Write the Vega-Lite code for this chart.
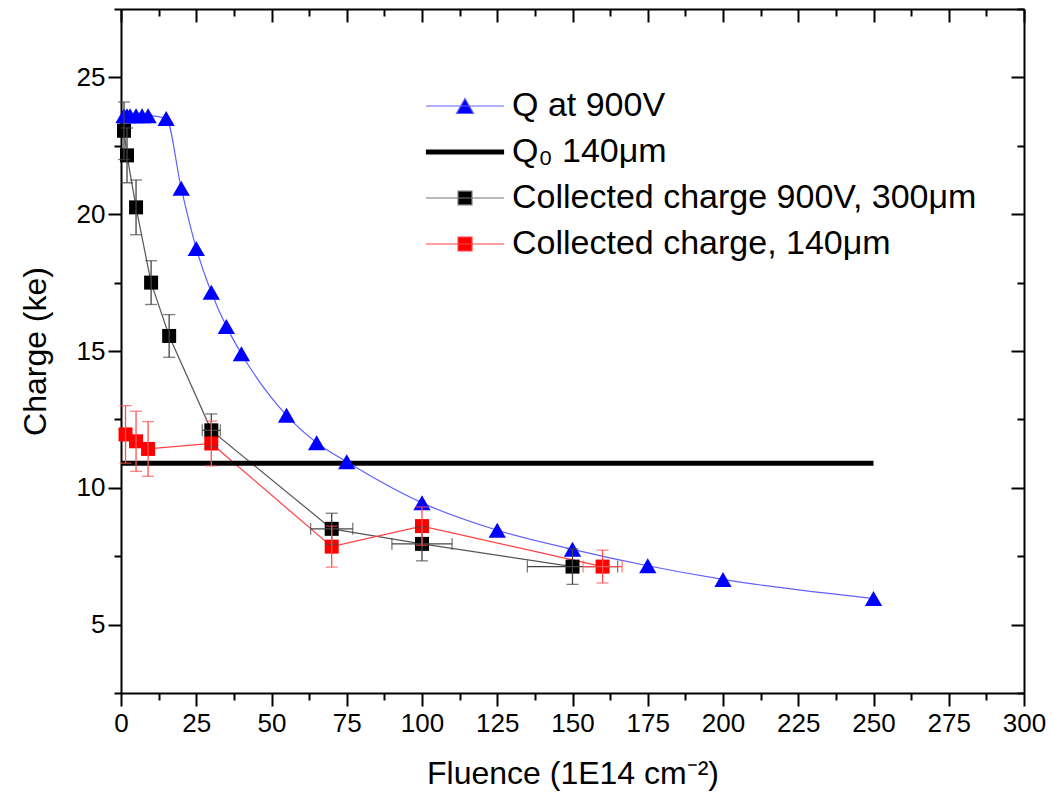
{
  "$schema": "https://vega.github.io/schema/vega-lite/v6.json",
  "width": 903,
  "height": 684,
  "autosize": {"type": "none"},
  "padding": {"left": 121, "top": 9, "right": 28, "bottom": 115},
  "background": "white",
  "config": {
    "view": {"stroke": null},
    "font": "Liberation Sans",
    "axis": {
      "grid": false,
      "domainColor": "black",
      "domainWidth": 2,
      "tickColor": "black",
      "tickWidth": 2,
      "labelFont": "Liberation Sans",
      "labelFontSize": 26,
      "labelColor": "black",
      "labelFlush": false,
      "labelOverlap": false,
      "labelBound": false,
      "titleFont": "Liberation Sans",
      "titleFontSize": 32,
      "titleFontWeight": "normal",
      "titleColor": "black"
    },
    "legend": {"labelFont": "Liberation Sans", "labelColor": "black", "labelLimit": 0}
  },
  "datasets": {
    "pts": [
      {"series": "Q at 900V", "x": 1, "y": 23.6},
      {"series": "Q at 900V", "x": 2, "y": 23.6},
      {"series": "Q at 900V", "x": 3, "y": 23.6},
      {"series": "Q at 900V", "x": 5, "y": 23.6},
      {"series": "Q at 900V", "x": 7, "y": 23.6},
      {"series": "Q at 900V", "x": 9, "y": 23.6},
      {"series": "Q at 900V", "x": 15, "y": 23.5},
      {"series": "Q at 900V", "x": 20, "y": 20.95},
      {"series": "Q at 900V", "x": 25, "y": 18.75},
      {"series": "Q at 900V", "x": 30, "y": 17.15},
      {"series": "Q at 900V", "x": 35, "y": 15.9},
      {"series": "Q at 900V", "x": 40, "y": 14.9},
      {"series": "Q at 900V", "x": 55, "y": 12.65},
      {"series": "Q at 900V", "x": 65, "y": 11.65},
      {"series": "Q at 900V", "x": 75, "y": 10.95},
      {"series": "Q at 900V", "x": 100, "y": 9.45},
      {"series": "Q at 900V", "x": 125, "y": 8.45},
      {"series": "Q at 900V", "x": 150, "y": 7.75},
      {"series": "Q at 900V", "x": 175, "y": 7.15},
      {"series": "Q at 900V", "x": 200, "y": 6.65},
      {"series": "Q at 900V", "x": 250, "y": 5.95},
      {"series": "Q₀ 140μm", "x": 0, "y": 10.9},
      {"series": "Q₀ 140μm", "x": 250, "y": 10.9},
      {"series": "Collected charge 900V, 300μm", "x": 1, "y": 23.05, "yerr": 1.05, "xerr": 0},
      {"series": "Collected charge 900V, 300μm", "x": 2, "y": 22.15, "yerr": 1.0, "xerr": 0},
      {"series": "Collected charge 900V, 300μm", "x": 5, "y": 20.25, "yerr": 1.0, "xerr": 0},
      {"series": "Collected charge 900V, 300μm", "x": 10, "y": 17.5, "yerr": 0.8, "xerr": 0},
      {"series": "Collected charge 900V, 300μm", "x": 16, "y": 15.55, "yerr": 0.78, "xerr": 0},
      {"series": "Collected charge 900V, 300μm", "x": 30, "y": 12.1, "yerr": 0.6, "xerr": 3},
      {"series": "Collected charge 900V, 300μm", "x": 70, "y": 8.5, "yerr": 0.57, "xerr": 7},
      {"series": "Collected charge 900V, 300μm", "x": 100, "y": 7.95, "yerr": 0.62, "xerr": 10},
      {"series": "Collected charge 900V, 300μm", "x": 150, "y": 7.12, "yerr": 0.65, "xerr": 15},
      {"series": "Collected charge, 140μm", "x": 1.5, "y": 11.95, "yerr": 1.05, "xerr": 0},
      {"series": "Collected charge, 140μm", "x": 5, "y": 11.7, "yerr": 1.1, "xerr": 0},
      {"series": "Collected charge, 140μm", "x": 9, "y": 11.42, "yerr": 1.0, "xerr": 0},
      {"series": "Collected charge, 140μm", "x": 30, "y": 11.62, "yerr": 0.82, "xerr": 0},
      {"series": "Collected charge, 140μm", "x": 70, "y": 7.85, "yerr": 0.75, "xerr": 0},
      {"series": "Collected charge, 140μm", "x": 100, "y": 8.6, "yerr": 0.7, "xerr": 0},
      {"series": "Collected charge, 140μm", "x": 160, "y": 7.12, "yerr": 0.6, "xerr": 6.5}
    ]
  },
  "data": {"name": "pts"},
  "resolve": {"axis": {"x": "independent", "y": "independent"}},
  "layer": [
    {
      "transform": [{"filter": "datum.series === 'Collected charge 900V, 300μm'"}],
      "mark": {"type": "line", "color": "#555555", "strokeWidth": 1.2},
      "encoding": {
        "x": {"field": "x", "type": "quantitative", "scale": {"domain": [0, 300], "nice": false, "zero": false},
          "axis": {"orient": "top", "values": [0,12.5,25,37.5,50,62.5,75,87.5,100,112.5,125,137.5,150,162.5,175,187.5,200,212.5,225,237.5,250,262.5,275,287.5,300],
            "labels": false, "title": null,
            "tickSize": {"condition": {"test": "datum.value % 25 === 0", "value": -13}, "value": -7}}},
        "y": {"field": "y", "type": "quantitative", "scale": {"domain": [2.5, 27.5], "nice": false, "zero": false},
          "axis": {"orient": "right", "values": [2.5,5,7.5,10,12.5,15,17.5,20,22.5,25,27.5],
            "labels": false, "title": null,
            "tickSize": {"condition": {"test": "datum.value % 5 === 0", "value": -13}, "value": -7}}}
      }
    },
    {
      "transform": [{"filter": "datum.series === 'Collected charge, 140μm'"}],
      "mark": {"type": "line", "color": "#ff4040", "strokeWidth": 1.2},
      "encoding": {
        "x": {"field": "x", "type": "quantitative", "axis": null},
        "y": {"field": "y", "type": "quantitative", "axis": null}
      }
    },
    {
      "transform": [{"filter": "datum.series === 'Q₀ 140μm'"}],
      "mark": {"type": "line", "color": "#000000", "strokeWidth": 5},
      "encoding": {
        "x": {"field": "x", "type": "quantitative", "axis": null},
        "y": {"field": "y", "type": "quantitative", "axis": null}
      }
    },
    {
      "transform": [{"filter": "datum.series === 'Q at 900V'"}],
      "mark": {"type": "line", "interpolate": "monotone", "color": "#6060ff", "strokeWidth": 1.2},
      "encoding": {
        "x": {"field": "x", "type": "quantitative", "axis": null},
        "y": {"field": "y", "type": "quantitative", "axis": null}
      }
    },
    {
      "transform": [{"filter": "datum.series === 'Q at 900V'"}],
      "mark": {"type": "point", "shape": "triangle-up", "filled": true, "color": "#0000ff", "size": 300, "opacity": 1},
      "encoding": {
        "x": {"field": "x", "type": "quantitative",
          "axis": {"orient": "bottom", "values": [0,12.5,25,37.5,50,62.5,75,87.5,100,112.5,125,137.5,150,162.5,175,187.5,200,212.5,225,237.5,250,262.5,275,287.5,300],
            "labelExpr": "datum.value % 25 === 0 ? format(datum.value, 'd') : ''",
            "tickSize": {"condition": {"test": "datum.value % 25 === 0", "value": 13}, "value": 7},
            "labelPadding": 4, "title": "Fluence (1E14 cm⁻²)", "titlePadding": 22}},
        "y": {"field": "y", "type": "quantitative",
          "axis": {"orient": "left", "values": [2.5,5,7.5,10,12.5,15,17.5,20,22.5,25,27.5],
            "labelExpr": "datum.value % 5 === 0 ? format(datum.value, 'd') : ''",
            "tickSize": {"condition": {"test": "datum.value % 5 === 0", "value": 13}, "value": 7},
            "labelPadding": 3, "title": "Charge (ke)", "titlePadding": 24}}
      }
    },
    {
      "transform": [{"filter": "datum.series === 'Collected charge 900V, 300μm'"}],
      "mark": {"type": "point", "shape": "square", "filled": true, "color": "#000000", "size": 196, "opacity": 1},
      "encoding": {
        "x": {"field": "x", "type": "quantitative", "axis": null},
        "y": {"field": "y", "type": "quantitative", "axis": null}
      }
    },
    {
      "transform": [{"filter": "datum.series === 'Collected charge, 140μm'"}],
      "mark": {"type": "point", "shape": "square", "filled": true, "color": "#ff0000", "size": 196, "opacity": 1},
      "encoding": {
        "x": {"field": "x", "type": "quantitative", "axis": null},
        "y": {"field": "y", "type": "quantitative", "axis": null}
      }
    },
    {
      "transform": [{"filter": "datum.series === 'Collected charge 900V, 300μm'"}],
      "mark": {"type": "errorbar", "ticks": {"size": 12, "color": "#444444"}, "color": "#444444", "thickness": 1.3},
      "encoding": {
        "x": {"field": "x", "type": "quantitative", "axis": null},
        "y": {"field": "y", "type": "quantitative", "axis": null},
        "yError": {"field": "yerr"}
      }
    },
    {
      "transform": [{"filter": "datum.series === 'Collected charge 900V, 300μm' && datum.xerr > 0"}],
      "mark": {"type": "errorbar", "ticks": {"size": 12, "color": "#444444"}, "color": "#444444", "thickness": 1.3},
      "encoding": {
        "y": {"field": "y", "type": "quantitative", "axis": null},
        "x": {"field": "x", "type": "quantitative", "axis": null},
        "xError": {"field": "xerr"}
      }
    },
    {
      "transform": [{"filter": "datum.series === 'Collected charge, 140μm'"}],
      "mark": {"type": "errorbar", "ticks": {"size": 12, "color": "#ff5050"}, "color": "#ff5050", "thickness": 1.3},
      "encoding": {
        "x": {"field": "x", "type": "quantitative", "axis": null},
        "y": {"field": "y", "type": "quantitative", "axis": null},
        "yError": {"field": "yerr"}
      }
    },
    {
      "transform": [{"filter": "datum.series === 'Collected charge, 140μm' && datum.xerr > 0"}],
      "mark": {"type": "errorbar", "ticks": {"size": 12, "color": "#ff5050"}, "color": "#ff5050", "thickness": 1.3},
      "encoding": {
        "y": {"field": "y", "type": "quantitative", "axis": null},
        "x": {"field": "x", "type": "quantitative", "axis": null},
        "xError": {"field": "xerr"}
      }
    },
    {
      "transform": [{"filter": "false"}],
      "mark": {"type": "point", "opacity": 1},
      "encoding": {
        "shape": {"field": "series", "type": "nominal",
          "scale": {"domain": ["Q at 900V", "Q₀ 140μm", "Collected charge 900V, 300μm", "Collected charge, 140μm"],
            "range": ["M-4.6,0H4.6M0,-0.88L-1,0.88L1,0.88Z", "M-4.6,0H4.6", "M-4.6,0H4.6M-0.82,-0.82H0.82V0.82H-0.82Z", "M-4.6,0H4.6M-0.82,-0.82H0.82V0.82H-0.82Z"]},
          "legend": {"orient": "none", "legendX": 327, "legendY": 80, "title": null, "padding": 0, "symbolSize": 289,
            "labelFontSize": 34, "rowPadding": 12, "labelOffset": 30}},
        "fill": {"field": "series", "type": "nominal",
          "scale": {"domain": ["Q at 900V", "Q₀ 140μm", "Collected charge 900V, 300μm", "Collected charge, 140μm"],
            "range": ["#0000ff", "transparent", "#000000", "#ff0000"]},
          "legend": {"orient": "none", "legendX": 327, "legendY": 80, "title": null, "padding": 0, "symbolSize": 289,
            "labelFontSize": 34, "rowPadding": 12, "labelOffset": 30}},
        "stroke": {"field": "series", "type": "nominal",
          "scale": {"domain": ["Q at 900V", "Q₀ 140μm", "Collected charge 900V, 300μm", "Collected charge, 140μm"],
            "range": ["#6060ff", "#000000", "#777777", "#ff4040"]},
          "legend": {"orient": "none", "legendX": 327, "legendY": 80, "title": null, "padding": 0, "symbolSize": 289,
            "labelFontSize": 34, "rowPadding": 12, "labelOffset": 30}},
        "strokeWidth": {"field": "series", "type": "nominal",
          "scale": {"type": "ordinal", "domain": ["Q at 900V", "Q₀ 140μm", "Collected charge 900V, 300μm", "Collected charge, 140μm"],
            "range": [1.2, 5, 1.2, 1.2]},
          "legend": {"orient": "none", "legendX": 327, "legendY": 80, "title": null, "padding": 0, "symbolSize": 289,
            "labelFontSize": 34, "rowPadding": 12, "labelOffset": 30}}
      }
    }
  ]
}
